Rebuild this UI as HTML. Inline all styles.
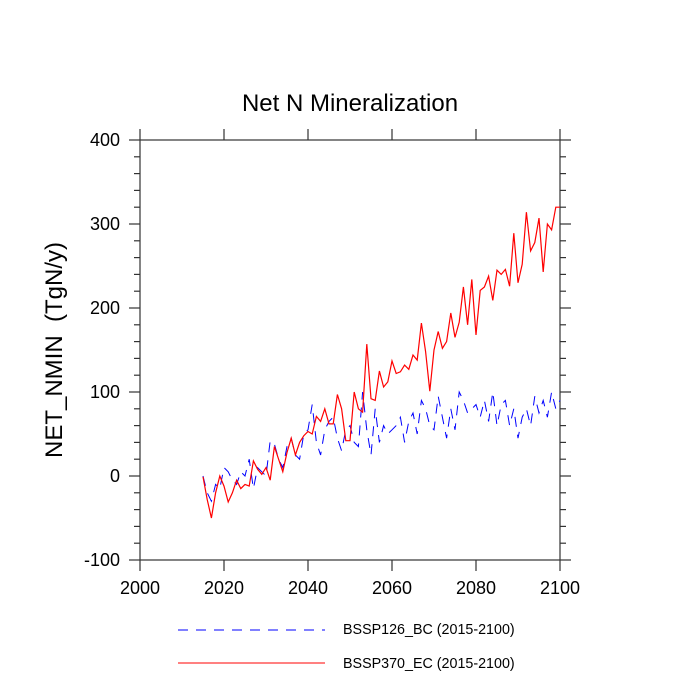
<!DOCTYPE html>
<html><head><meta charset="utf-8"><style>
body{margin:0;background:#fff;font-family:"Liberation Sans",sans-serif}
svg{display:block}
</style></head><body>
<svg id="chart" width="700" height="700">
<text x="350" y="111" text-anchor="middle" font-size="24">Net N Mineralization</text>
<text transform="translate(62,350) rotate(-90)" text-anchor="middle" font-size="24">NET_NMIN&#160;&#160;(TgN/y)</text>
<g id="axes"></g>
<g id="series"></g>
<g>
<line x1="178" y1="630" x2="325" y2="630" stroke="#00f" stroke-width="1" stroke-dasharray="10,8"/>
<text x="343" y="634" font-size="14.3">BSSP126_BC (2015-2100)</text>
<line x1="178" y1="663" x2="325" y2="663" stroke="#f00" stroke-width="1"/>
<text x="343" y="668" font-size="14.3">BSSP370_EC (2015-2100)</text>
</g>
</svg>
<script>
const startYear = 2015;
const redValues = [-1,-28,-50,-20,0,-12,-31,-20,-5,-15,-10,-12,18,8,2,10,-5,35,20,5,28,45,25,40,48,53,50,71,65,80,62,62,97,80,42,42,100,80,76,157,92,90,125,106,112,137,122,124,132,127,144,138,182,148,101,150,172,152,160,194,165,183,225,180,234,168,221,225,238,209,245,240,246,226,289,230,252,314,268,278,307,243,300,293,320,320];
const blueValues = [0,-20,-30,-10,-15,10,5,-5,-10,5,0,20,-15,10,5,0,42,38,20,10,35,45,25,20,50,55,85,40,25,55,65,70,45,30,55,60,40,35,100,55,25,80,40,60,50,55,60,70,40,65,75,50,90,80,60,55,95,70,45,80,55,100,90,75,80,85,70,90,65,100,60,85,90,60,80,45,70,80,60,95,75,90,70,100,80,90];
const xTicks = [2000,2020,2040,2060,2080,2100];
const yTicks = [-100,0,100,200,300,400];
const NS="http://www.w3.org/2000/svg";
const L=140,R=560,T=140,B=560;
const xs=v=>L+(v-2000)/100*(R-L);
const ys=v=>B-(v+100)/500*(B-T);
const axes=document.getElementById('axes'), series=document.getElementById('series');
function mk(tag,attrs,parent){const e=document.createElementNS(NS,tag);for(const k in attrs)e.setAttribute(k,attrs[k]);parent.appendChild(e);return e;}
const frame=mk('rect',{x:L,y:T,width:R-L,height:B-T,fill:'none',stroke:'#333','stroke-width':1.2},axes);


xTicks.forEach(v=>{const x=xs(v);
 const t1=mk('line',{x1:x,y1:B,x2:x,y2:B+11,stroke:'#333','stroke-width':1.2},axes);
 
 
 const t2=mk('line',{x1:x,y1:T,x2:x,y2:T-11,stroke:'#333','stroke-width':1.2},axes);
 
 });
for(let v=-100;v<=400;v+=20){const len=(v%100===0)?11:6;const y=ys(v);
 const t1=mk('line',{x1:L,y1:y,x2:L-len,y2:y,stroke:'#333','stroke-width':1.2},axes);
 
 
 const t2=mk('line',{x1:R,y1:y,x2:R+len,y2:y,stroke:'#333','stroke-width':1.2},axes);
 
 }
xTicks.forEach(v=>{const t=mk('text',{x:xs(v),y:B+34,'text-anchor':'middle','font-size':18},axes);t.textContent=v;
 
 });
yTicks.forEach(v=>{const t=mk('text',{x:L-20,y:ys(v)+6,'text-anchor':'end','font-size':18},axes);t.textContent=v;
 
 });
function path(vals){return vals.map((v,i)=>(i?'L':'M')+xs(startYear+i).toFixed(1)+','+ys(v).toFixed(1)).join('');}
const blue=mk('path',{d:path(blueValues),fill:'none',stroke:'#00f','stroke-width':1,'stroke-dasharray':'10,8'},series);


const red=mk('path',{d:path(redValues),fill:'none',stroke:'#f00','stroke-width':1.2},series);


</script>
</body></html>
